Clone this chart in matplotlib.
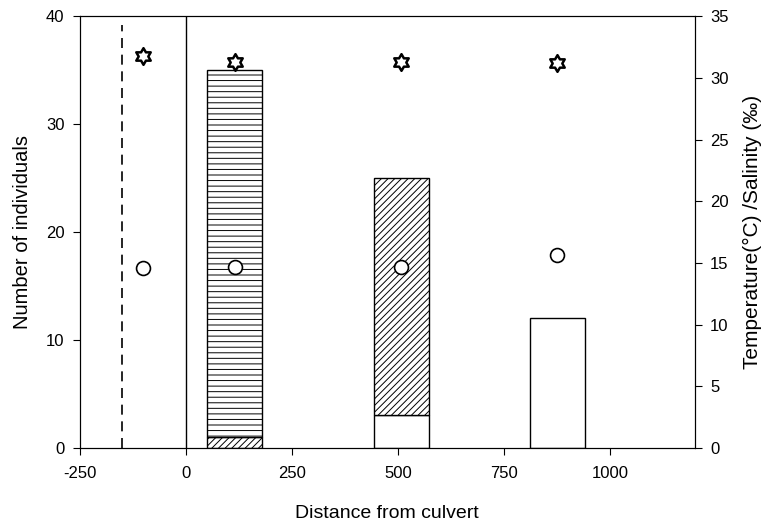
import numpy as np
import matplotlib
matplotlib.use("Agg")
import matplotlib.pyplot as plt
from matplotlib.path import Path

plt.rcParams['font.family'] = ['Liberation Sans', 'DejaVu Sans']
plt.rcParams['hatch.linewidth'] = 0.7
plt.rcParams['axes.unicode_minus'] = False

# bar data (counts)
bar_x = [115, 508, 876]
n_white = [0, 3, 12]
n_diag = [1, 22, 0]
n_horiz = [34, 0, 0]

# environmental data (right axis)
site_x = [-100, 115, 507, 875]
salinity = [31.8, 31.3, 31.3, 31.2]
temp = [14.6, 14.7, 14.7, 15.6]

# hexagram marker
ang_out = np.deg2rad(90 + 60 * np.arange(6))
ang_in = ang_out + np.deg2rad(30)
verts = []
for a, b in zip(ang_out, ang_in):
    verts.append((np.cos(a), np.sin(a)))
    verts.append((np.cos(b) / np.sqrt(3), np.sin(b) / np.sqrt(3)))
verts.append(verts[0])
star = Path(verts, closed=True)

fig = plt.figure(figsize=(7.67, 5.22), dpi=100)
ax = fig.add_axes([0.104, 0.142, 0.802, 0.827])

# stacked bars, skip empty segments so no extra edge lines are drawn
w = 130
bottom = np.zeros(len(bar_x))
for vals, hatch in [(n_white, None), (n_diag, '/////'), (n_horiz, '---')]:
    vals = np.array(vals, dtype=float)
    keep = vals > 0
    ax.bar(np.array(bar_x)[keep], vals[keep], width=w, bottom=bottom[keep],
           color='white', edgecolor='black', hatch=hatch, linewidth=1)
    bottom += vals

ax.axvline(0, color='black', lw=1)
ax.plot([-150, -150], [0, 39.2], color='black', lw=1.2, dashes=(6, 4))

ax.set_xlim(-250, 1200)
ax.set_ylim(0, 40)
ax.set_xticks([-250, 0, 250, 500, 750, 1000])
ax.set_yticks([0, 10, 20, 30, 40])
ax.tick_params(labelsize=12, direction='out', length=5)
ax.tick_params(axis='x', pad=8)
ax.tick_params(axis='y', pad=6)
ax.set_xlabel('Distance from culvert', fontsize=14, labelpad=17)
ax.set_ylabel('Number of individuals', fontsize=14.5, labelpad=10)

ax2 = ax.twinx()
ax2.plot(site_x, salinity, linestyle='none', marker=star, ms=12,
         mfc='white', mec='black', mew=1.8)
ax2.plot(site_x, temp, linestyle='none', marker='o', ms=10,
         mfc='white', mec='black', mew=1.2)
ax2.set_ylim(0, 35)
ax2.set_yticks(np.arange(0, 36, 5))
ax2.tick_params(labelsize=12, direction='out', length=5, pad=6)
ax2.set_ylabel('Temperature(°C) /Salinity (‰)', fontsize=15, labelpad=10)

fig.savefig('out.png', dpi=100)
